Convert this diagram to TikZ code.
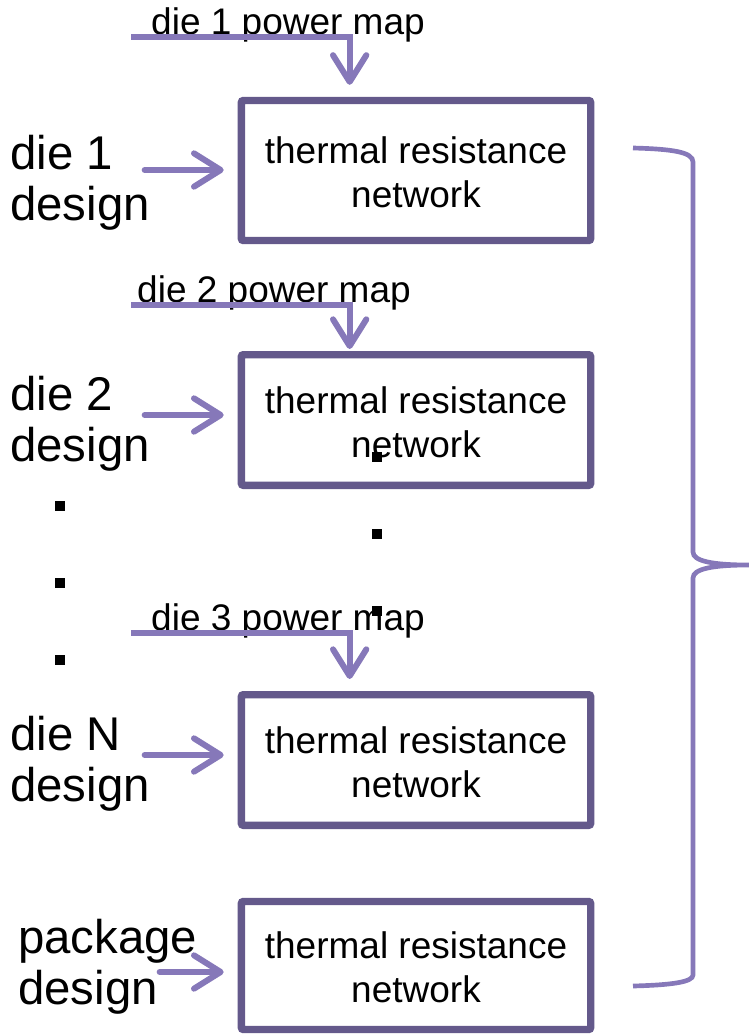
\documentclass[tikz,border=0pt]{standalone}
\usepackage{fontspec}
\setmainfont{Liberation Sans}
\usetikzlibrary{arrows.meta,calc,positioning}
\definecolor{BoxPurple}{RGB}{100,89,139}
\definecolor{ArrowPurple}{RGB}{134,120,185}

\begin{document}
\begin{tikzpicture}[x=0.75pt,y=-0.75pt,every node/.style={align=center,inner sep=0pt},
  NetBox/.style={draw=BoxPurple,line width=5.5pt,rounded corners=1.5pt,minimum width=262pt,font=\fontsize{27.75pt}{33pt}\selectfont},
  DesignLabel/.style={align=left,anchor=base west,font=\fontsize{35.5pt}{38pt}\selectfont},
  PowerLabel/.style={anchor=base,font=\fontsize{27.75pt}{33pt}\selectfont},
  InArrow/.style={draw=ArrowPurple,line width=4.5pt,line cap=round,-{Straight Barb[length=20pt,width=25pt,round]}},
  PowerArrow/.style={InArrow,line cap=butt,line join=miter}]
\useasboundingbox (0,0) rectangle (749,1035);
\node [NetBox,minimum height=105pt] (ThermalNet1) at (416,170.5) {\strut thermal resistance\\network};
\node [NetBox,minimum height=98pt] (ThermalNet2) at (416,420) {\strut thermal resistance\\network};
\node [NetBox,minimum height=98pt] (ThermalNet3) at (416,760) {\strut thermal resistance\\network};
\node [NetBox,minimum height=96pt] (ThermalNet4) at (416,965.5) {\strut thermal resistance\\network};
\node [DesignLabel] (DieDesign1) at (10,220) {die 1\\design};
\node [DesignLabel] (DieDesign2) at (10,461) {die 2\\design};
\node [DesignLabel] (DieDesign3) at (10,801) {die N\\design};
\node [DesignLabel] (PackageDesign) at (18,1004) {package\\design};
\node [PowerLabel] (PowerMap1) at (288,34) {die 1 power map};
\node [PowerLabel] (PowerMap2) at (274,302) {die 2 power map};
\node [PowerLabel] (PowerMap3) at (288,630) {die 3 power map};
\coordinate (PowerIn1) at (131,37);
\coordinate (PowerIn2) at (131,305);
\coordinate (PowerIn3) at (131,633);
% power maps feed the die networks
\draw [PowerArrow] (PowerIn1) -| ($(ThermalNet1.north west)+(112,-12)$);
\draw [PowerArrow] (PowerIn2) -| ($(ThermalNet2.north west)+(112,-2)$);
\draw [PowerArrow] (PowerIn3) -| ($(ThermalNet3.north west)+(112,-12)$);
% designs
\draw [InArrow] ($(ThermalNet1.west)+(-93,-0.5)$) -- ($(ThermalNet1.west)+(-14,-0.5)$);
\draw [InArrow] ($(ThermalNet2.west)+(-93,-5)$) -- ($(ThermalNet2.west)+(-14,-5)$);
\draw [InArrow] ($(ThermalNet3.west)+(-93,-5)$) -- ($(ThermalNet3.west)+(-14,-5)$);
\draw [InArrow] ($(ThermalNet4.west)+(-78,6.5)$) -- ($(ThermalNet4.west)+(-14,6.5)$);
% dots
\foreach \y in {506,583,660} \fill (55,\y-5) rectangle (65,\y+5);
\foreach \y in {457,534,611} \fill (372,\y-5) rectangle (382,\y+5);
% brace
\draw [ArrowPurple,line width=3.5pt] (633,148) .. controls (672,149) and (693,152) .. (693,162) -- (693,552) .. controls (693,561) and (712,565) .. (749,565) .. controls (712,565) and (693,569) .. (693,578) -- (693,975) .. controls (693,982) and (672,985) .. (633,986);
\end{tikzpicture}
\end{document}
